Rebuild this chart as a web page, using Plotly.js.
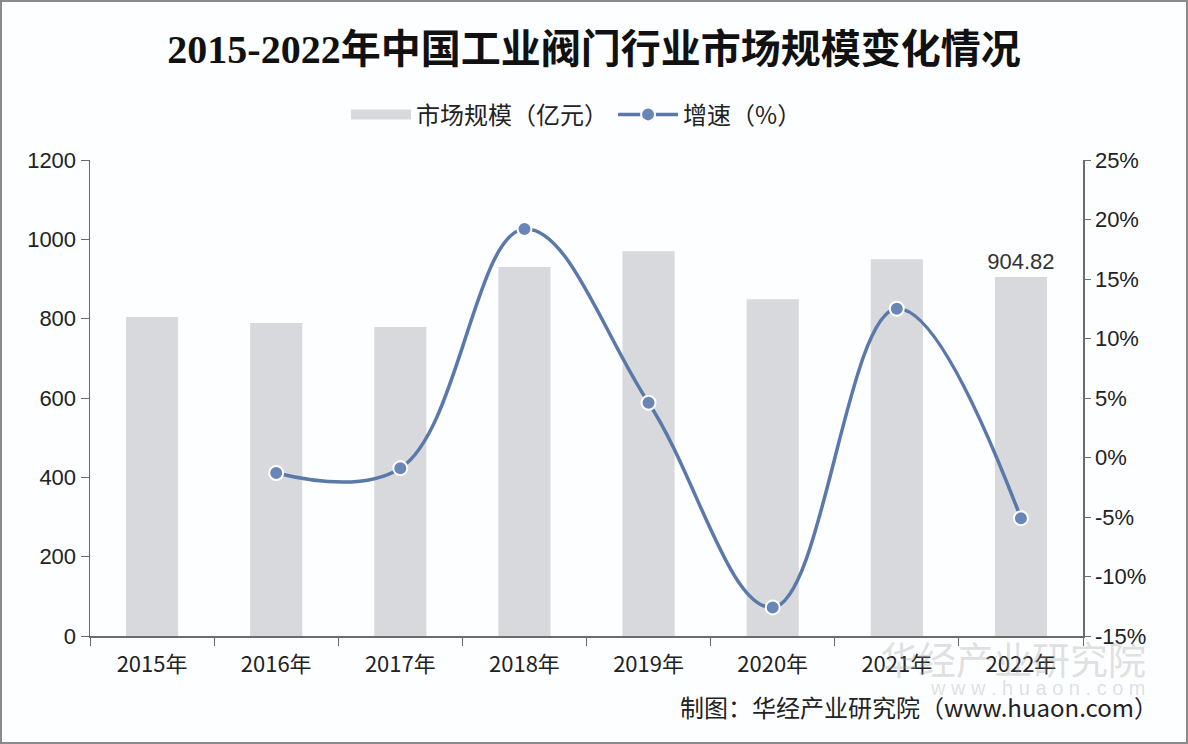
<!DOCTYPE html>
<html>
<head>
<meta charset="utf-8">
<script src="https://cdn.plot.ly/plotly-3.0.1.min.js"></script>
<style>
body { margin: 0; background: #fff; }
#chart { width: 1184px; height: 740px; border: 2px solid #8a8a8a; background: #fdfeff; }
</style>
</head>
<body>
<div id="chart"></div>
<script>
// 年份、市场规模（亿元）、增速（%）
var years = ['2015年', '2016年', '2017年', '2018年', '2019年', '2020年', '2021年', '2022年'];
var scale = [804, 789, 779, 930, 970, 849, 950, 904.82];
var growth = [null, -1.3, -0.9, 19.2, 4.6, -12.6, 12.5, -5.1];
var scaleLabels = ['', '', '', '', '', '', '', '904.82'];
var rightTicks = [25, 20, 15, 10, 5, 0, -5, -10, -15];

var cjk = '"Noto Sans CJK SC", "Liberation Sans", sans-serif';

var bars = {
    x: years,
    y: scale,
    type: 'bar',
    name: '市场规模（亿元）',
    showlegend: false,
    width: 0.42,
    marker: {color: '#d8d9dc'},
    text: scaleLabels,
    textposition: 'outside',
    constraintext: 'none',
    cliponaxis: false,
    textfont: {family: '"Liberation Sans", Arial, sans-serif', size: 22, color: '#333'},
    hoverinfo: 'x+y'
};

// 图例用的宽色块
var barKey = {
    x: [null],
    y: [null],
    type: 'scatter',
    mode: 'lines',
    name: '市场规模（亿元）',
    line: {color: '#d8d9dc', width: 14}
};

var line = {
    x: years,
    y: growth,
    type: 'scatter',
    mode: 'lines+markers',
    name: '增速（%）',
    yaxis: 'y2',
    line: {color: '#5a78a9', width: 3.5, shape: 'spline', smoothing: 1.1},
    marker: {color: '#6a86b6', size: 14, line: {color: '#ffffff', width: 2}},
    connectgaps: false
};

var layout = {
    width: 1184,
    height: 740,
    margin: {l: 88, r: 103, t: 158, b: 106},
    paper_bgcolor: '#fdfeff',
    plot_bgcolor: 'rgba(0,0,0,0)',
    title: {
        text: '<b>2015-2022年中国工业阀门行业市场规模变化情况</b>',
        x: 0.5, xanchor: 'center', y: 0.937, yanchor: 'middle',
        font: {family: '"Liberation Serif", "Noto Sans CJK SC", serif', size: 40, color: '#111'}
    },
    showlegend: true,
    legend: {
        orientation: 'h', x: 0.49, xanchor: 'center', y: 1.095, yanchor: 'middle',
        font: {family: cjk, size: 24, color: '#222'},
        itemwidth: 60, tracegroupgap: 0
    },
    bargap: 0.58,
    xaxis: {
        type: 'category',
        showline: true, linecolor: '#6b6b6b', linewidth: 1.5,
        ticks: 'outside', ticklen: 8, tickcolor: '#6b6b6b', tickson: 'boundaries',
        ticklabelstandoff: 8,
        tickfont: {family: cjk, size: 22, color: '#222'},
        showgrid: false, zeroline: false
    },
    yaxis: {
        range: [0, 1200], dtick: 200,
        showline: true, linecolor: '#6b6b6b', linewidth: 1.5,
        ticks: 'outside', ticklen: 8, tickcolor: '#6b6b6b',
        tickfont: {family: '"Liberation Sans", Arial, sans-serif', size: 22, color: '#222'},
        showgrid: false, zeroline: false
    },
    yaxis2: {
        overlaying: 'y', side: 'right',
        range: [-15, 25],
        tickvals: rightTicks,
        ticktext: rightTicks.map(function (v) { return v + '%'; }),
        showline: true, linecolor: '#6b6b6b', linewidth: 1.5,
        ticks: 'outside', ticklen: 6, tickcolor: '#6b6b6b',
        tickfont: {family: '"Liberation Sans", Arial, sans-serif', size: 22, color: '#222'},
        showgrid: false, zeroline: false
    },
    annotations: [
        {
            text: '华经产业研究院', xref: 'paper', yref: 'paper',
            x: 1.065, y: -0.045, xanchor: 'right', yanchor: 'middle', showarrow: false,
            font: {family: cjk, size: 38, color: 'rgba(150,150,150,0.3)'}
        },
        {
            text: 'w w w . h u a o n . c o m', xref: 'paper', yref: 'paper',
            x: 1.065, y: -0.11, xanchor: 'right', yanchor: 'middle', showarrow: false,
            font: {family: '"Liberation Sans", sans-serif', size: 20, color: 'rgba(150,150,150,0.3)'}
        },
        {
            text: '制图：华经产业研究院（www.huaon.com）', xref: 'paper', yref: 'paper',
            x: 1.078, y: -0.148, xanchor: 'right', yanchor: 'middle', showarrow: false,
            font: {family: cjk, size: 24, color: '#222'}
        }
    ]
};

Plotly.newPlot('chart', [barKey, bars, line], layout, {displayModeBar: false, staticPlot: true});
</script>
</body>
</html>
